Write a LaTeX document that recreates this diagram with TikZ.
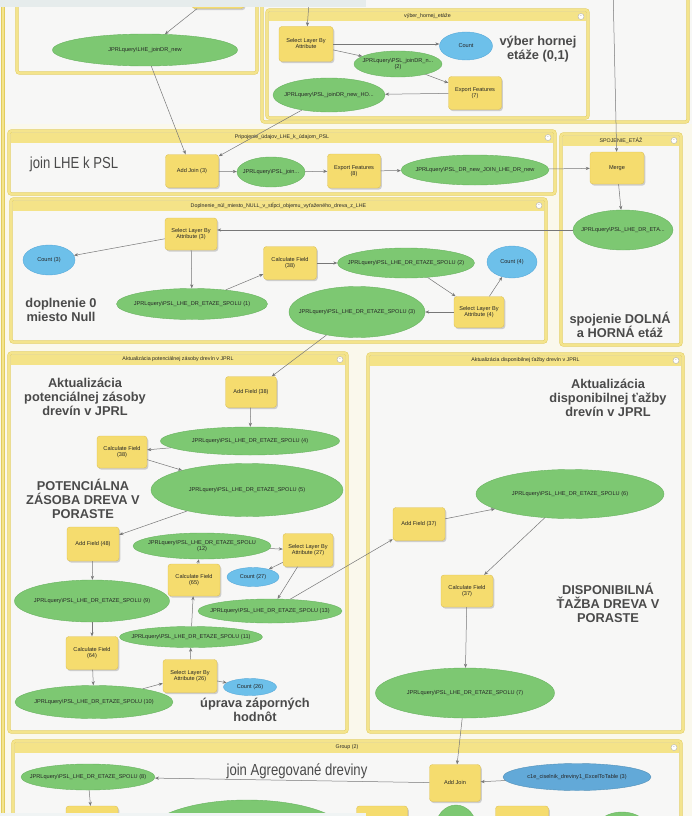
\documentclass[tikz,border=0pt]{standalone}
\usepackage{fontspec}
\setmainfont{Liberation Sans}
\newfontfamily\narrowfont[FakeStretch=0.82]{Liberation Sans}
\usetikzlibrary{shapes.geometric,arrows.meta,calc,shadows}

\definecolor{toolY}{HTML}{F5DC6E}
\definecolor{toolB}{HTML}{DEC155}
\definecolor{dataG}{HTML}{7DC872}
\definecolor{dataB}{HTML}{68B25F}
\definecolor{cntB}{HTML}{6DC0EA}
\definecolor{cntD}{HTML}{58A9D9}
\definecolor{tblB}{HTML}{62A9D8}
\definecolor{frameY}{HTML}{F4E48C}
\definecolor{frameD}{HTML}{E2CC5E}
\definecolor{headY}{HTML}{F4E388}
\definecolor{bodyC}{HTML}{F7F7F6}
\definecolor{lineC}{HTML}{777777}
\definecolor{noteC}{HTML}{4A4A4A}
\definecolor{txtC}{HTML}{262626}
\definecolor{bandC}{HTML}{E6ECEC}
\definecolor{pageC}{HTML}{FAF8EC}

% zero-width text so that the shapes keep their given size
\newcommand{\ztxt}[1]{\makebox[0pt]{\begin{tabular}{@{}c@{}}#1\end{tabular}}}

% a ModelBuilder group: name, x1, y1, x2, y2, title
\newcommand{\mbgroup}[6]{%
  \draw[grpframe] (#2,#3) rectangle (#4,#5);
  \fill[headY] ($(#2,#3)+(1.6,1.6)$) rectangle ($(#4,#3)+(-1.6,11.5)$);
  \node[grptitle] (#1-title) at ($(#2,#3)!0.5!(#4,#3)+(0,6.5)$) {#6};
  \node[grpbtn] (#1-btn) at ($(#4,#3)+(-7,6.5)$) {-};
}

\begin{document}
\begin{tikzpicture}[x=1pt,y=-1pt,
  small/.style={font=\fontsize{5.6}{6.4}\selectfont, text=txtC},
  sz/.style 2 args={minimum width=#1pt, minimum height=#2pt},
  toolbox/.style={small, rectangle, rounded corners=3pt, fill=toolY, draw=toolB,
    line width=0.4pt, inner sep=0pt, sz={52}{33},
    drop shadow={shadow xshift=1.3pt, shadow yshift=-1.6pt, opacity=0.35}},
  dataset/.style={small, ellipse, fill=dataG, draw=dataB, line width=0.4pt, inner sep=0pt},
  countnode/.style={small, ellipse, fill=cntB, draw=cntD, line width=0.4pt, inner sep=0pt},
  tablenode/.style={small, ellipse, fill=tblB, draw=tblB!85!black, line width=0.4pt, inner sep=0pt},
  flow/.style={draw=lineC, line width=0.5pt, -{Stealth[length=4pt,width=3.2pt]}},
  grpframe/.style={draw=frameD, double=frameY, double distance=2.4pt, line width=0.45pt,
    fill=bodyC, rounded corners=2.5pt},
  grpedge/.style={draw=frameD, double=frameY, double distance=2.4pt, line width=0.45pt},
  grptitle/.style={font=\fontsize{5.3}{6}\selectfont, text=txtC, inner sep=0pt},
  grpbtn/.style={circle, draw=gray!60, fill=white, line width=0.4pt, minimum size=6pt,
    inner sep=0pt, font=\fontsize{5}{5}\selectfont, text=gray},
  note/.style={font=\bfseries\fontsize{12.8}{14.2}\selectfont, text=noteC, align=center, inner sep=0pt},
  bignarrow/.style={font=\narrowfont\fontsize{16}{18}\selectfont, text=noteC, inner sep=0pt},
]
\clip (0,0) rectangle (692,816);
\fill[pageC] (0,0) rectangle (692,816);
\fill[bodyC] (0,0) rectangle (692,124);

% outermost model group edge
\draw[grpedge] (3,-20) -- (3,840);

% ---------- groups ----------
\draw[grpframe] (17,-20) rectangle (257,73);
\draw[grpframe] (262,-20) rectangle (688,122);
\mbgroup{vyber}{267}{10}{588}{118}{výber\_hornej\_etáže}
\mbgroup{prip}{9}{131}{555}{194}{Pripojenie\_údajov\_LHE\_k\_údajom\_PSL}
\mbgroup{spoj}{561}{134}{681}{345}{SPOJENIE\_ETÁŽ}
\mbgroup{dopl}{11}{199}{546}{342}{Doplnenie\_núl\_miesto\_NULL\_v\_stĺpci\_objemu\_vyťaženého\_dreva\_z\_LHE}
\mbgroup{apot}{9}{353}{347}{732}{Aktualizácia potenciálnej zásoby drevín v JPRL}
\mbgroup{adis}{368}{354}{683}{732}{Aktualizácia disponibilnej ťažby drevín v JPRL}
\mbgroup{grp}{13}{741}{681}{840}{Group (2)}

% ---------- upper left ----------
\node[toolbox] (topbox) at (218,-8) {};
\node[dataset, sz={185}{32}] (lhe) at (145,50) {\ztxt{JPRLquery\textbackslash LHE\_joinDR\_new}};

% ---------- výber hornej etáže ----------
\coordinate (upA) at (310,-12);
\coordinate (upB) at (613,-12);
\node[toolbox, sz={54}{35}] (sel1) at (306,44) {\ztxt{Select Layer By\\Attribute}};
\node[countnode, sz={53}{28}] (cnt1) at (466,46) {\ztxt{Count}};
\node[dataset, sz={88}{26}] (dj2) at (398,64) {\ztxt{JPRLquery\textbackslash PSL\_joinDR\_n...\\(2)}};
\node[toolbox, sz={53}{33}] (exp7) at (475,93) {\ztxt{Export Features\\(7)}};
\node[dataset, sz={112}{34}] (ho) at (329,95) {\ztxt{JPRLquery\textbackslash PSL\_joinDR\_new\_HO...}};
\node[note] (vnote) at (538,49) {výber hornej\\etáže (0,1)};

% ---------- pripojenie ----------
\node[bignarrow] (pnote) at (74,164) {join LHE k PSL};
\node[toolbox, sz={53}{33}] (aj3) at (192,171) {\ztxt{Add Join (3)}};
\node[dataset, sz={68}{30}] (pj) at (271,172) {\ztxt{JPRLquery\textbackslash PSL\_join...}};
\node[toolbox, sz={53}{34}] (exp8) at (354,171) {\ztxt{Export Features\\(8)}};
\node[dataset, sz={148}{30}] (jl) at (475,170) {\ztxt{JPRLquery\textbackslash PSL\_DR\_new\_JOIN\_LHE\_DR\_new}};

% ---------- spojenie etáž ----------
\node[toolbox, sz={54}{32}] (merge) at (617,168) {\ztxt{Merge}};
\node[dataset, sz={100}{40}] (sp) at (623,230) {\ztxt{JPRLquery\textbackslash PSL\_LHE\_DR\_ETA...}};
\node[note] (snote) at (620,325) {spojenie DOLNÁ\\a HORNÁ etáž};

% ---------- doplnenie ----------
\node[toolbox, sz={52}{32}] (sel3) at (191,234) {\ztxt{Select Layer By\\Attribute (3)}};
\node[countnode, sz={52}{30}] (cnt3) at (49,260) {\ztxt{Count (3)}};
\node[toolbox, sz={53}{33}] (cf38a) at (290,263) {\ztxt{Calculate Field\\(38)}};
\node[dataset, sz={137}{30}] (s2) at (406,263) {\ztxt{JPRLquery\textbackslash PSL\_LHE\_DR\_ETAZE\_SPOLU (2)}};
\node[countnode, sz={50}{32}] (cnt4) at (512,262) {\ztxt{Count (4)}};
\node[dataset, sz={151}{31}] (s1) at (192,304) {\ztxt{JPRLquery\textbackslash PSL\_LHE\_DR\_ETAZE\_SPOLU (1)}};
\node[dataset, sz={136}{51}] (s3) at (357,312) {\ztxt{JPRLquery\textbackslash PSL\_LHE\_DR\_ETAZE\_SPOLU (3)}};
\node[toolbox, sz={50}{31}] (sel4) at (479,312) {\ztxt{Select Layer By\\Attribute (4)}};
\node[note] (dnote) at (61,310) {doplnenie 0\\miesto Null};

% ---------- aktualizácia potenciálnej zásoby ----------
\node[note] (apnote) at (85,397) {Aktualizácia\\potenciálnej zásoby\\drevín v JPRL};
\node[toolbox, sz={51}{31}] (af38) at (251,392) {\ztxt{Add Field (38)}};
\node[dataset, sz={179}{28}] (s4) at (250,441) {\ztxt{JPRLquery\textbackslash PSL\_LHE\_DR\_ETAZE\_SPOLU (4)}};
\node[toolbox, sz={50}{32}] (cf38b) at (122,452) {\ztxt{Calculate Field\\(38)}};
\node[dataset, sz={192}{53}] (s5) at (247,490) {\ztxt{JPRLquery\textbackslash PSL\_LHE\_DR\_ETAZE\_SPOLU (5)}};
\node[note] (pznote) at (83,499) {POTENCIÁLNA\\ZÁSOBA DREVA V\\PORASTE};
\node[toolbox, sz={52}{34}] (af48) at (93,544) {\ztxt{Add Field (48)}};
\node[dataset, sz={138}{26}] (s12) at (202,546) {\ztxt{JPRLquery\textbackslash PSL\_LHE\_DR\_ETAZE\_SPOLU\\(12)}};
\node[toolbox, sz={50}{33}] (sel27) at (308,550) {\ztxt{Select Layer By\\Attribute (27)}};
\node[toolbox, sz={52}{32}] (cf65) at (194,580) {\ztxt{Calculate Field\\(65)}};
\node[countnode, sz={52}{19}] (cnt27) at (253,577) {\ztxt{Count (27)}};
\node[dataset, sz={155}{42}] (s9) at (92,601) {\ztxt{JPRLquery\textbackslash PSL\_LHE\_DR\_ETAZE\_SPOLU (9)}};
\node[dataset, sz={144}{24}] (s13) at (270,611) {\ztxt{JPRLquery\textbackslash PSL\_LHE\_DR\_ETAZE\_SPOLU (13)}};
\node[dataset, sz={143}{21}] (s11) at (191,637) {\ztxt{JPRLquery\textbackslash PSL\_LHE\_DR\_ETAZE\_SPOLU (11)}};
\node[toolbox, sz={52}{33}] (cf64) at (92,653) {\ztxt{Calculate Field\\(64)}};
\node[toolbox, sz={54}{33}] (sel26) at (190,676) {\ztxt{Select Layer By\\Attribute (26)}};
\node[countnode, sz={53}{17}] (cnt26) at (250,687) {\ztxt{Count (26)}};
\node[dataset, sz={158}{33}] (s10) at (94,702) {\ztxt{JPRLquery\textbackslash PSL\_LHE\_DR\_ETAZE\_SPOLU (10)}};
\node[note] (upnote) at (255,710) {úprava záporných\\hodnôt};

% ---------- aktualizácia disponibilnej ťažby ----------
\node[note] (adnote) at (608,398) {Aktualizácia\\disponibilnej ťažby\\drevín v JPRL};
\node[dataset, sz={188}{49}] (s6) at (570,494) {\ztxt{JPRLquery\textbackslash PSL\_LHE\_DR\_ETAZE\_SPOLU (6)}};
\node[toolbox, sz={52}{33}] (af37) at (419,524) {\ztxt{Add Field (37)}};
\node[toolbox, sz={52}{32}] (cf37) at (467,591) {\ztxt{Calculate Field\\(37)}};
\node[note] (dtnote) at (608,603) {DISPONIBILNÁ\\ŤAŽBA DREVA V\\PORASTE};
\node[dataset, sz={179}{50}] (s7) at (465,693) {\ztxt{JPRLquery\textbackslash PSL\_LHE\_DR\_ETAZE\_SPOLU (7)}};

% ---------- group (2) ----------
\node[dataset, sz={134}{26}] (s8) at (88,777) {\ztxt{JPRLquery\textbackslash PSL\_LHE\_DR\_ETAZE\_SPOLU (8)}};
\node[bignarrow] (gnote) at (297,771) {join Agregované dreviny};
\node[toolbox, sz={51}{37}] (agj) at (455,783) {\ztxt{Add Join}};
\node[tablenode, sz={148}{27}] (c1e) at (577,777) {\ztxt{c1e\_ciselnik\_dreviny1\_ExcelToTable (3)}};
\node[toolbox, sz={52}{34}] (b1) at (92,823) {};
\node[dataset, sz={203}{72}] (e1) at (247,836) {};
\node[toolbox, sz={51}{40}] (b2) at (382,826) {};
\node[dataset, sz={42}{50}] (e2) at (456,830) {};
\node[toolbox, sz={53}{40}] (b3) at (522,826) {};
\node[dataset, sz={62}{52}] (e3) at (622,838) {};

% ---------- connectors ----------
\draw[flow] (topbox) -- (lhe);
\draw[flow] (upA) -- (sel1);
\draw[flow] (sel1.east) -- (cnt1.west |- sel1.east);
\draw[flow] (sel1) -- (dj2);
\draw[flow] (dj2) -- (exp7);
\draw[flow] (exp7) -- (ho);
\draw[flow] (ho) -- (aj3);
\draw[flow] (lhe) -- (aj3);
\draw[flow] (upB) -- (merge);
\draw[flow] (aj3) -- (pj);
\draw[flow] (pj) -- (exp8);
\draw[flow] (exp8) -- (jl);
\draw[flow] (jl) -- (merge);
\draw[flow] (merge) -- (sp);
\draw[flow] (sp.west) -- (sel3.east |- sp.west);
\draw[flow] (sel3) -- (cnt3);
\draw[flow] (sel3) -- (s1);
\draw[flow] (s1) -- (cf38a);
\draw[flow] (cf38a) -- (s2);
\draw[flow] (s2) -- (sel4);
\draw[flow] (sel4) -- (cnt4);
\draw[flow] (sel4) -- (s3);
\draw[flow] (s3) -- (af38);
\draw[flow] (af38) -- (s4);
\draw[flow] (s4) -- (cf38b);
\draw[flow] (cf38b) -- (s5);
\draw[flow] (s5) -- (af48);
\draw[flow] (af48) -- (s9);
\draw[flow] (s9) -- (cf64);
\draw[flow] (cf64) -- (s10);
\draw[flow] (s10) -- (sel26);
\draw[flow] (sel26) -- (cnt26);
\draw[flow] (sel26) -- (s11);
\draw[flow] (s11) -- (cf65);
\draw[flow] (cf65) -- (s12);
\draw[flow] (s12) -- (sel27);
\draw[flow] (sel27) -- (cnt27);
\draw[flow] (sel27) -- (s13);
\draw[flow] (s13) -- (af37);
\draw[flow] (af37) -- (s6);
\draw[flow] (s6) -- (cf37);
\draw[flow] (cf37) -- (s7);
\draw[flow] (s7) -- (agj);
\draw[flow] (c1e) -- (agj);
\draw[flow] (agj) -- (s8);
\draw[flow] (s8) -- (b1);

% ---------- screen bands ----------
\fill[bandC] (0,0) rectangle (366,7);
\fill[bandC!60!white] (0,813) rectangle (366,816);
\end{tikzpicture}
\end{document}
